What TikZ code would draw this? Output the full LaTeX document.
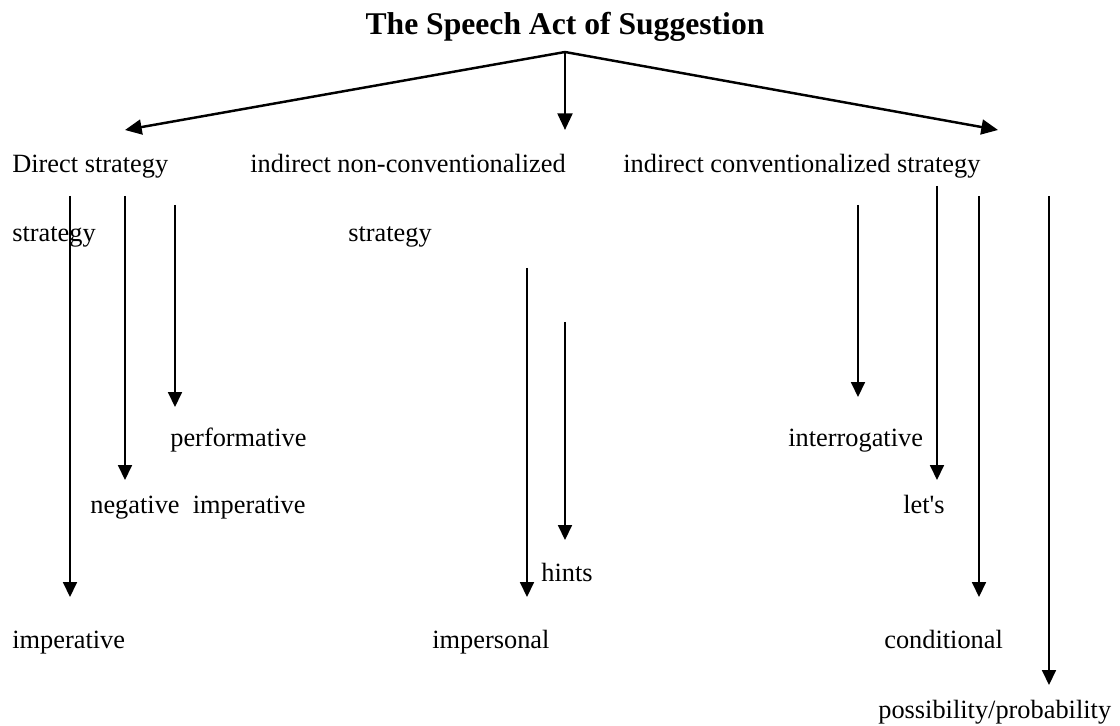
\documentclass[tikz,border=0pt]{standalone}
\usepackage{fontspec}
\setmainfont{Liberation Serif}
\usetikzlibrary{arrows.meta}
\tikzset{
  lbl/.style={anchor=base west, inner sep=0pt, font=\fontsize{15}{18}\selectfont},
  branch/.style={line width=1.4pt, -{Triangle[length=9.5pt,width=8.5pt]}},
  drop/.style={line width=0.85pt, -{Triangle[length=8.5pt,width=8pt]}}
}
\begin{document}
\begin{tikzpicture}[x=0.02cm, y=-0.02cm]
    \useasboundingbox (0,0) rectangle (1120,726);
    
    % Title and the three strategies
    \node[anchor=base, inner sep=0pt, font=\fontsize{18}{22}\selectfont\bfseries] (title) at (565,35) {The Speech Act of Suggestion};
    \node[lbl] (direct) at (12,173) {Direct strategy};
    \node[lbl] (direct2) at (12,242) {strategy};
    \node[lbl] (nonconv) at (250,173) {indirect non-conventionalized};
    \node[lbl] (nonconv2) at (348,242) {strategy};
    \node[lbl] (conv) at (623,173) {indirect conventionalized strategy};
    
    % Sub-strategies
    \node[lbl] (perf) at (170,446) {performative};
    \node[lbl] (negimp) at (90,513) {negative\ \ imperative};
    \node[lbl] (imp) at (12,648) {imperative};
    \node[lbl] (hints) at (541,581) {hints};
    \node[lbl] (impers) at (432,648) {impersonal};
    \node[lbl] (interr) at (788,446) {interrogative};
    \node[lbl] (lets) at (903,513) {let\textquotesingle s};
    \node[lbl] (cond) at (884,648) {conditional};
    \node[lbl] (poss) at (878,718) {possibility/probability};
    
    % Top branches
    \coordinate (apex) at (565,52);
    \draw[branch] (apex) -- (125,130);
    \draw[branch] (apex) -- (565,130);
    \draw[branch] (apex) -- (998,130);
    
    % Vertical drops
    \draw[drop] (70,196) -- (70,597);
    \draw[drop] (125,196) -- (125,480);
    \draw[drop] (175,205) -- (175,407);
    \draw[drop] (527,268) -- (527,597);
    \draw[drop] (565,322) -- (565,540);
    \draw[drop] (858,205) -- (858,397);
    \draw[drop] (937,186) -- (937,480);
    \draw[drop] (979,196) -- (979,597);
    \draw[drop] (1049,196) -- (1049,685);
\end{tikzpicture}
\end{document}
